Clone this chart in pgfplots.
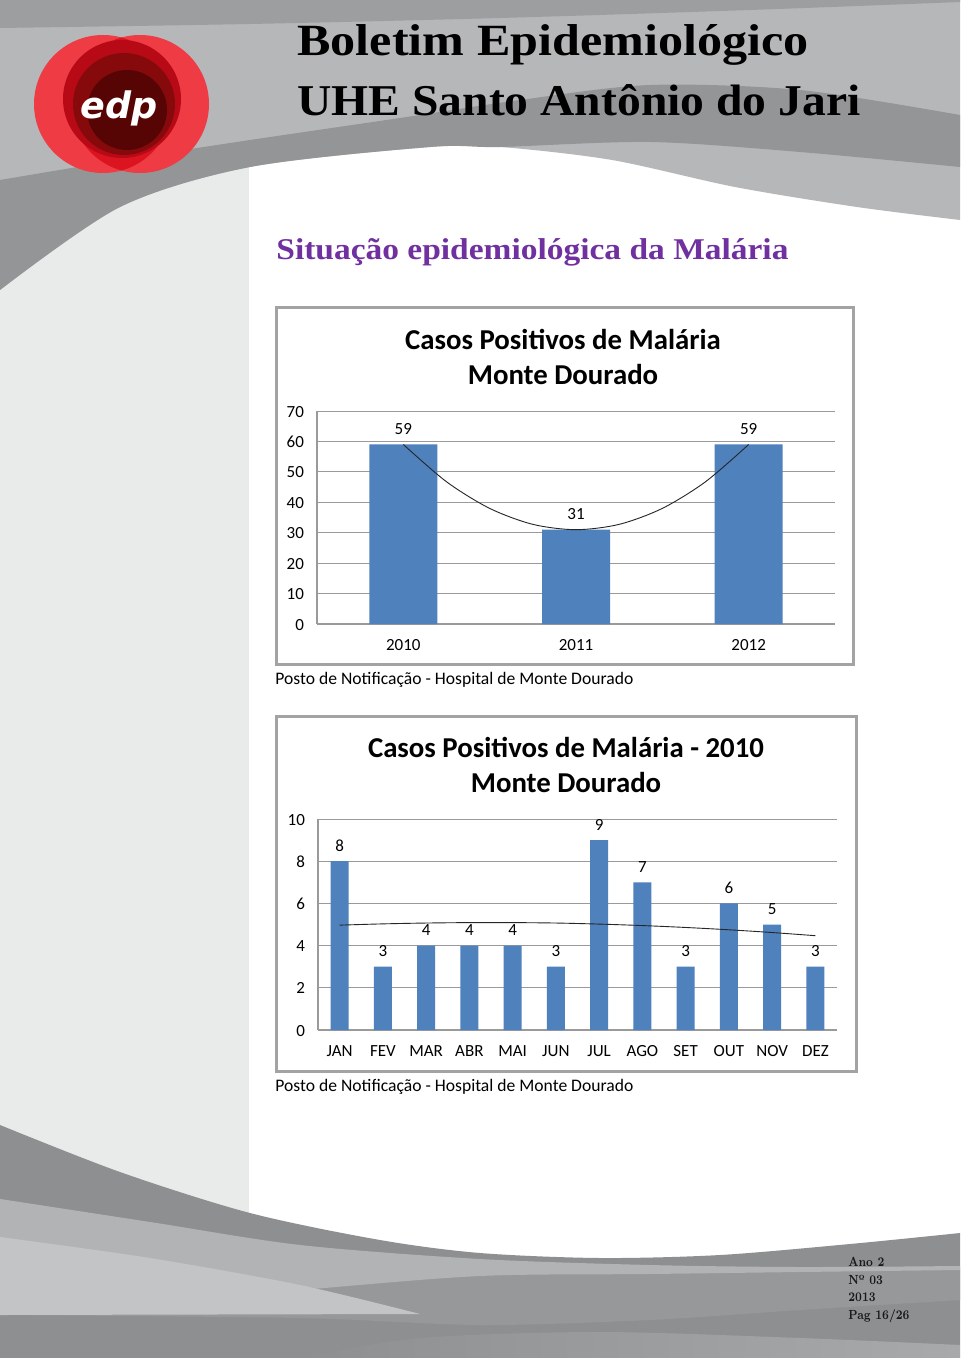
\documentclass[border=0pt]{standalone}
\usepackage{pgfplots}
\pgfplotsset{compat=1.18}
\usepackage{fontspec}
\newfontfamily\calibri{Carlito}
\newfontfamily\timesf{Liberation Serif}
\newfontfamily\logofont{DejaVu Sans}
\definecolor{barblue}{HTML}{4F81BD}
\definecolor{gridc}{HTML}{9A9A9A}
\definecolor{framec}{HTML}{A3A3A3}
\definecolor{lstrip}{HTML}{E9EBEB}
\definecolor{hdrlight}{HTML}{B6B7B9}
\definecolor{hdrdark}{HTML}{949597}
\definecolor{hdrtop}{HTML}{9D9EA0}
\definecolor{ftrdark}{HTML}{8E8F91}
\definecolor{ftrmid}{HTML}{97989A}
\definecolor{ftrlight}{HTML}{B2B3B5}
\definecolor{ftrlighter}{HTML}{C3C4C6}
\definecolor{ftrbottom}{HTML}{A8A9AB}
\definecolor{purp}{HTML}{7030A0}
\definecolor{edpred}{HTML}{EE3B44}
\definecolor{edplens}{HTML}{DC1420}
\definecolor{edpmid}{HTML}{B80A16}
\definecolor{edpdark}{HTML}{860A0C}
\definecolor{edpdeep}{HTML}{560404}
\pgfplotsset{
  mychart/.style={
    scale only axis, anchor=south west, clip=false,
    axis x line*=bottom, axis y line*=left,
    axis line style={gridc, line width=0.6pt},
    ymajorgrids, grid style={gridc, line width=0.5pt},
    major tick length=0pt,
    tick label style={font=\calibri\fontsize{8.5}{10}\selectfont, text=black},
    /pgf/number format/assume math mode=true,
    typeset ticklabels with strut,
    yticklabel style={xshift=-3pt, yshift=-1pt},
    xticklabel style={yshift=-2.5pt},
  },
  barstyle/.style={ybar, fill=barblue, draw=none, nodes near coords,
    every node near coord/.append style={font=\calibri\fontsize{8.5}{10}\selectfont, text=black, yshift=1.5pt}},
  trendstyle/.style={black!85, line width=0.45pt, smooth, mark=none},
}
\newcommand\ftr[1]{\scalebox{0.8}[1]{\bfseries\fontsize{6.6}{9}\selectfont #1}}
\begin{document}
\begin{tikzpicture}
\begin{scope}[x=0.5pt,y=-0.5pt]
\useasboundingbox (0,0) rectangle (960,1358);
\fill[white] (0,0) rectangle (960,1358);
% left light strip
\fill[lstrip] (0,150) rectangle (249,1270);
% header base
\fill[hdrlight] (0,0) -- (960,0) -- plot[smooth] coordinates {(960,220) (857,207) (735,187) (612,160) (500,147) (430,147) (250,167) (120,207) (0,290)} -- cycle;
% header dark band
\fill[hdrdark] plot[smooth] coordinates {(0,180) (120,160) (250,140) (400,118) (520,100) (650,85) (800,90) (960,115)} -- plot[smooth] coordinates {(960,167) (800,152) (650,142) (500,147) (430,147) (250,167) (120,207) (0,290)} -- cycle;
% top strip
\fill[hdrtop] (0,0) -- (960,0) -- plot[smooth] coordinates {(960,2) (750,10) (500,18) (250,24) (0,28)} -- cycle;
% footer
\fill[ftrdark] plot[smooth] coordinates {(0,1125) (120,1172) (250,1213) (380,1240) (480,1253) (600,1258) (720,1255) (850,1244) (960,1233)} -- (960,1358) -- (0,1358) -- cycle;
\fill[ftrmid] plot[smooth] coordinates {(0,1199) (150,1222) (300,1245) (480,1262) (650,1268) (800,1270) (960,1270)} -- plot[smooth] coordinates {(960,1300) (800,1310) (650,1320) (480,1325) (300,1318) (0,1315)} -- cycle;
\fill[ftrlight] plot[smooth] coordinates {(0,1199) (150,1222) (300,1245) (480,1259) (650,1265) (800,1267) (960,1266)} -- plot[smooth] coordinates {(960,1270) (800,1272) (650,1274) (480,1276) (300,1290) (0,1315)} -- cycle;
\fill[ftrlighter] plot[smooth] coordinates {(0,1237) (150,1258) (300,1285) (420,1314)} -- (0,1315) -- cycle;
\shade[left color=ftrdark, right color=ftrbottom] plot[smooth] coordinates {(300,1358) (420,1338) (600,1332) (800,1338) (960,1345)} -- (960,1358) -- cycle;
% logo
\fill[edpred] (103,104) circle[radius=69];
\fill[edpred] (140,104) circle[radius=69];
\begin{scope}
\clip (103,104) circle[radius=69];
\fill[edplens] (140,104) circle[radius=69];
\end{scope}
\fill[edpmid] (122,99) circle[radius=59];
\fill[edpdark] (124,104) circle[radius=51];
\fill[edpdeep] (127,110) circle[radius=40];
\node[white, inner sep=0pt] at (119,108) {\resizebox{38.5pt}{!}{\logofont\bfseries\itshape edp}};
% titles
\node[anchor=base west, inner sep=0pt] at (297,56) {\resizebox{255.5pt}{15.5pt}{\timesf\bfseries Boletim Epidemiológico}};
\node[anchor=base west, inner sep=0pt] at (297,116) {\resizebox{281.5pt}{15.5pt}{\timesf\bfseries UHE Santo Antônio do Jari}};
\node[anchor=base west, inner sep=0pt, text=purp] at (276,260) {\resizebox{256pt}{10.5pt}{\timesf\bfseries Situação epidemiológica da Malária}};
% chart frames
\draw[framec, line width=1.5] (276,308) rectangle (853,664);
\draw[framec, line width=1.5] (276,716) rectangle (856,1071);
% chart titles
\node[align=center, font=\calibri\bfseries\fontsize{14.4}{17.5}\selectfont] at (563,356.5) {Casos Positivos de Malária\\Monte Dourado};
\node[align=center, font=\calibri\bfseries\fontsize{14.4}{17.5}\selectfont] at (566,764.5) {Casos Positivos de Malária - 2010\\Monte Dourado};
% captions
\node[anchor=west, inner sep=0pt, font=\calibri\fontsize{8.8}{10}\selectfont] at (275,680) {Posto de Notificação - Hospital de Monte Dourado};
\node[anchor=west, inner sep=0pt, font=\calibri\fontsize{8.8}{10}\selectfont] at (275,1087) {Posto de Notificação - Hospital de Monte Dourado};
% footer text
\node[anchor=base west, inner sep=0pt, text=black!90] at (848,1266) {\ftr{Ano 2}};
\node[anchor=base west, inner sep=0pt, text=black!90] at (848,1284) {\ftr{Nº 03}};
\node[anchor=base west, inner sep=0pt, text=black!90] at (848,1301) {\ftr{2013}};
\node[anchor=base west, inner sep=0pt, text=black!90] at (848,1319) {\ftr{Pag 16/26}};
% axis anchors
\coordinate (A1) at (317,624);
\coordinate (A2) at (318,1030);
\end{scope}

\begin{axis}[mychart, at={(A1)}, width=259pt, height=106.5pt,
  xmin=-0.5, xmax=2.5, ymin=0, ymax=70, ytick={0,10,...,70},
  xtick={0,1,2}, xticklabels={2010,2011,2012}]
\addplot[barstyle, bar width=34pt] coordinates {(0,59) (1,31) (2,59)};
\addplot[trendstyle] coordinates {(0,59) (0.25,46.75) (0.5,38) (0.75,32.75) (1,31) (1.25,32.75) (1.5,38) (1.75,46.75) (2,59)};
\end{axis}

\begin{axis}[mychart, at={(A2)}, width=259.5pt, height=105.5pt,
  xmin=-0.5, xmax=11.5, ymin=0, ymax=10, ytick={0,2,...,10},
  xtick={0,...,11}, xticklabels={JAN,FEV,MAR,ABR,MAI,JUN,JUL,AGO,SET,OUT,NOV,DEZ}]
\addplot[barstyle, bar width=9pt] coordinates {(0,8) (1,3) (2,4) (3,4) (4,4) (5,3) (6,9) (7,7) (8,3) (9,6) (10,5) (11,3)};
\addplot[trendstyle] coordinates {(0,4.97) (1,5.03) (2,5.07) (3,5.09) (4,5.09) (5,5.07) (6,5.02) (7,4.95) (8,4.86) (9,4.75) (10,4.62) (11,4.47)};
\end{axis}
\end{tikzpicture}
\end{document}
